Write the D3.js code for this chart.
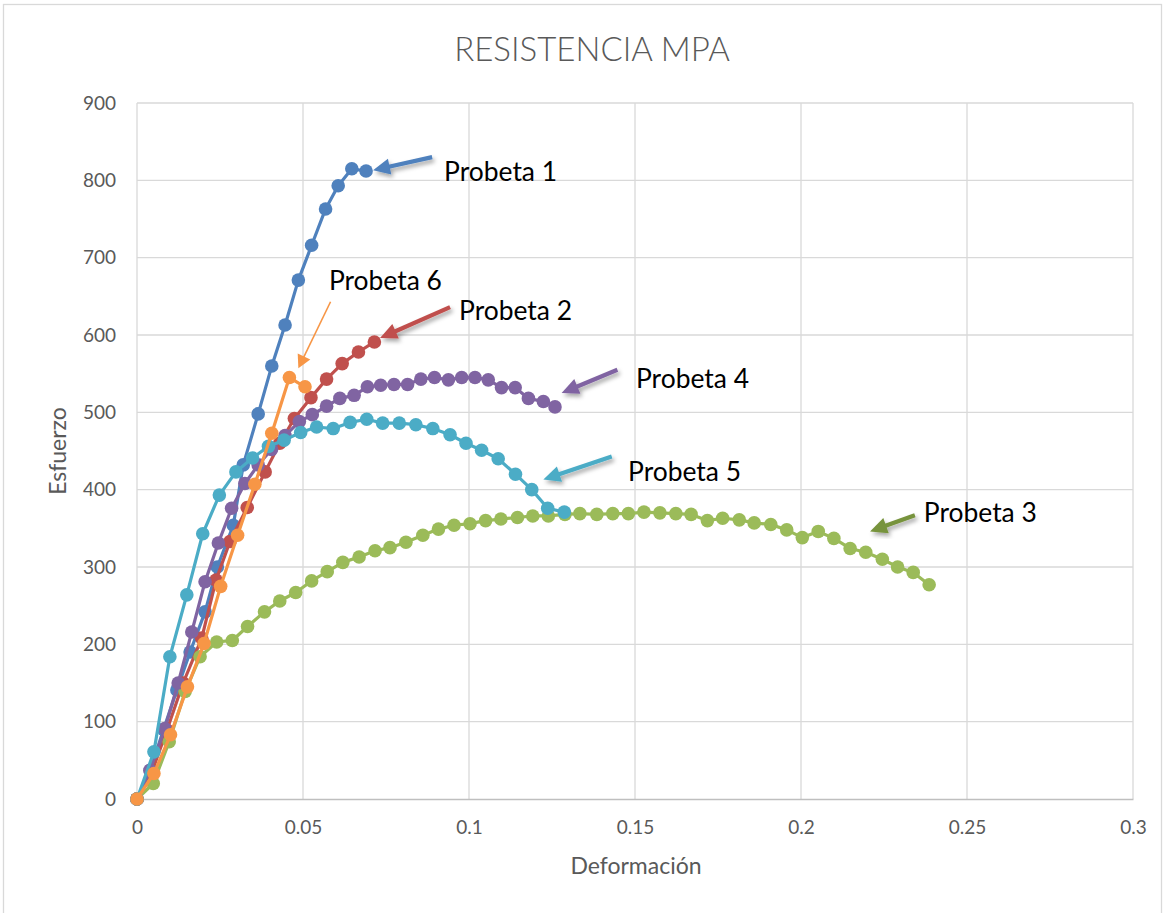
<!DOCTYPE html>
<html><head><meta charset="utf-8">
<script src="https://cdn.jsdelivr.net/npm/d3@7"></script>
<style>
body{margin:0;background:#fff;}
text{font-family:Lato,"Open Sans",sans-serif;}
</style>
</head><body>
<svg id="chart" width="1167" height="913"></svg>
<script>
// ---- data ----
const chartTitle = "RESISTENCIA MPA";
const xTitle = "Deformación";
const yTitle = "Esfuerzo";
const xTicks = [0, 0.05, 0.1, 0.15, 0.2, 0.25, 0.3];
const xTickLabels = ["0", "0.05", "0.1", "0.15", "0.2", "0.25", "0.3"];
const yTicks = [0, 100, 200, 300, 400, 500, 600, 700, 800, 900];

const seriesNames = ["Probeta 1", "Probeta 2", "Probeta 3", "Probeta 4", "Probeta 5", "Probeta 6"];

const p1x = [0, 0.004, 0.008, 0.012, 0.016, 0.0205, 0.0242, 0.029, 0.032, 0.0365, 0.0406, 0.0446, 0.0486, 0.0526, 0.0568, 0.0606, 0.0647, 0.069];
const p1y = [0, 37, 90, 141, 190, 242, 300, 354, 432, 498, 560, 613, 671, 716, 763, 793, 815, 812];

const p2x = [0, 0.0045, 0.009, 0.0139, 0.0195, 0.0238, 0.028, 0.0332, 0.0386, 0.043, 0.0474, 0.0524, 0.0571, 0.0618, 0.0667, 0.0715];
const p2y = [0, 35, 89, 150, 208, 283, 333, 377, 423, 460, 492, 519, 543, 563, 578, 591];

const p3x = [0, 0.0049, 0.0097, 0.0145, 0.019, 0.024, 0.0287, 0.0333, 0.0384, 0.043, 0.0478, 0.0526, 0.0573, 0.062, 0.0669, 0.0717, 0.0762, 0.081, 0.0861, 0.0908, 0.0955, 0.1003, 0.105, 0.1096, 0.1146, 0.1192, 0.1239, 0.1289, 0.1334, 0.1385, 0.1433, 0.148, 0.1527, 0.1575, 0.1623, 0.1669, 0.1718, 0.1764, 0.1814, 0.1859, 0.1909, 0.1957, 0.2004, 0.2052, 0.2099, 0.2148, 0.2195, 0.2245, 0.2291, 0.2338, 0.2386];
const p3y = [0, 20, 74, 139, 184, 203, 205, 223, 242, 256, 267, 282, 294, 306, 313, 321, 325, 332, 341, 349, 354, 356, 360, 362, 364, 366, 366, 368, 369, 368, 369, 369, 371, 370, 369, 368, 360, 363, 361, 357, 355, 348, 338, 346, 337, 324, 319, 310, 300, 293, 277];

const p4x = [0, 0.0039, 0.0084, 0.0124, 0.0165, 0.0205, 0.0245, 0.0285, 0.0325, 0.0365, 0.0405, 0.0446, 0.0489, 0.0528, 0.0571, 0.0611, 0.0654, 0.0694, 0.0734, 0.0774, 0.0815, 0.0855, 0.0896, 0.0938, 0.0978, 0.1018, 0.1058, 0.1098, 0.1139, 0.1179, 0.1224, 0.1259];
const p4y = [0, 37, 91, 150, 216, 281, 331, 376, 408, 432, 452, 470, 488, 497, 508, 518, 522, 533, 535, 536, 536, 543, 545, 542, 545, 545, 542, 532, 532, 518, 514, 507];

const p5x = [0, 0.0051, 0.0099, 0.015, 0.0198, 0.0248, 0.0298, 0.0348, 0.0396, 0.0443, 0.0493, 0.0541, 0.0591, 0.0642, 0.0692, 0.074, 0.079, 0.084, 0.0891, 0.0943, 0.0991, 0.1038, 0.1088, 0.114, 0.1189, 0.1237, 0.1287];
const p5y = [0, 61, 184, 264, 343, 393, 423, 441, 456, 464, 474, 481, 479, 487, 491, 486, 486, 484, 479, 471, 460, 451, 440, 420, 400, 376, 371];

const p6x = [0, 0.0051, 0.0101, 0.0152, 0.0202, 0.0252, 0.0303, 0.0355, 0.0406, 0.0459, 0.0506];
const p6y = [0, 33, 83, 145, 201, 275, 341, 407, 473, 545, 533];

const seriesX = [p1x, p2x, p3x, p4x, p5x, p6x];
const seriesY = [p1y, p2y, p3y, p4y, p5y, p6y];

// annotation labels (data units): text anchor and arrow start/tip
const annLabels = ["Probeta 1", "Probeta 6", "Probeta 2", "Probeta 4", "Probeta 5", "Probeta 3"];
const annTextX = [0.0925, 0.0578, 0.097, 0.1503, 0.1479, 0.2370];
const annTextY = [811, 671, 631, 544, 424, 371];
const annFromX = [0.0889, 0.0583, 0.0943, 0.1447, 0.1430, 0.2343];
const annFromY = [830, 643, 636, 555, 443, 367];
const annToX = [0.0711, 0.0486, 0.0732, 0.1279, 0.1224, 0.2208];
const annToY = [813, 557, 596, 525, 413, 346];

// ---- styling ----
const colors = ["#4f81bd", "#c0504d", "#9bbb59", "#8064a2", "#4bacc6", "#f79646"];
const annColors = ["#4f81bd", "#f79646", "#c0504d", "#8064a2", "#4bacc6", "#77933c"];
const annThin = [false, true, false, false, false, false];

const svg = d3.select("#chart");
const W = 1167, H = 913;
svg.append("rect").attr("x", 0).attr("y", 0).attr("width", W).attr("height", H).attr("fill", "#fff");
svg.append("rect").attr("x", 3.5).attr("y", 4.5).attr("width", 1158).attr("height", 915)
  .attr("fill", "none").attr("stroke", "#d9d9d9").attr("stroke-width", 1.3);

const defs = svg.append("defs");
const f = defs.append("filter").attr("id", "shadow").attr("x", "-30%").attr("y", "-30%").attr("width", "160%").attr("height", "160%");
f.append("feDropShadow").attr("dx", 2).attr("dy", 3).attr("stdDeviation", 2).attr("flood-color", "#000").attr("flood-opacity", 0.35);

const x = d3.scaleLinear().domain([0, 0.3]).range([137, 1133]);
const y = d3.scaleLinear().domain([0, 900]).range([799, 103]);

// gridlines
const grid = svg.append("g");
grid.selectAll("line.h").data(yTicks.filter(d => d > 0)).join("line")
  .attr("x1", x(0)).attr("x2", x(0.3)).attr("y1", d => y(d)).attr("y2", d => y(d))
  .attr("stroke", "#d9d9d9").attr("stroke-width", 1.3);
grid.selectAll("line.v").data(xTicks).join("line")
  .attr("x1", d => x(d)).attr("x2", d => x(d)).attr("y1", y(0)).attr("y2", y(900))
  .attr("stroke", "#d9d9d9").attr("stroke-width", 1.3);

// axes
const xAxis = d3.axisBottom(x).tickValues(xTicks).tickFormat((d, i) => xTickLabels[i]).tickSize(0).tickPadding(22);
const gx = svg.append("g").attr("transform", `translate(0,${y(0)})`).call(xAxis);
gx.select(".domain").attr("stroke", "#bfbfbf").attr("stroke-width", 1.3);
gx.selectAll("text").attr("fill", "#595959").attr("font-size", 19).attr("font-family", "Lato");

const yAxis = d3.axisLeft(y).tickValues(yTicks).tickFormat(d3.format("d")).tickSize(0).tickPadding(21);
const gy = svg.append("g").attr("transform", `translate(${x(0)},0)`).call(yAxis);
gy.select(".domain").remove();
gy.selectAll("text").attr("fill", "#595959").attr("font-size", 19).attr("font-family", "Lato");

// titles
svg.append("text").attr("x", 592).attr("y", 61).attr("text-anchor", "middle")
  .attr("font-size", 33).attr("font-weight", 300).attr("fill", "#595959").text(chartTitle);
svg.append("text").attr("x", 636).attr("y", 874).attr("text-anchor", "middle")
  .attr("font-size", 23).attr("fill", "#595959").text(xTitle);
svg.append("text").attr("transform", `translate(66,451) rotate(-90)`).attr("text-anchor", "middle")
  .attr("font-size", 23).attr("fill", "#595959").text(yTitle);

// series
const line = d3.line().x(d => x(d[0])).y(d => y(d[1]));
seriesX.forEach((xs, i) => {
  const pts = xs.map((v, j) => [v, seriesY[i][j]]);
  const g = svg.append("g").attr("class", "series").attr("data-name", seriesNames[i]);
  g.append("path").attr("d", line(pts)).attr("fill", "none").attr("stroke", colors[i]).attr("stroke-width", 3.2).attr("stroke-linejoin", "round");
  g.selectAll("circle").data(pts).join("circle")
    .attr("cx", d => x(d[0])).attr("cy", d => y(d[1])).attr("r", 6.8).attr("fill", colors[i]);
});

// annotations
annLabels.forEach((lab, i) => {
  const sx = x(annFromX[i]), sy = y(annFromY[i]), tx = x(annToX[i]), ty = y(annToY[i]);
  const dx = tx - sx, dy = ty - sy, len = Math.hypot(dx, dy);
  const ux = dx / len, uy = dy / len, px = -uy, py = ux;
  const thin = annThin[i];
  const L = thin ? 13 : 17, Wd = thin ? 7 : 8;
  const bx = tx - ux * L, by = ty - uy * L;
  const g = svg.append("g").attr("filter", thin ? null : "url(#shadow)");
  g.append("line").attr("x1", sx).attr("y1", sy).attr("x2", bx + ux * 2).attr("y2", by + uy * 2)
    .attr("stroke", annColors[i]).attr("stroke-width", thin ? 1.6 : 4.2);
  g.append("path").attr("d", `M${tx},${ty}L${bx + px * Wd},${by + py * Wd}L${bx - px * Wd},${by - py * Wd}Z`)
    .attr("fill", annColors[i]);
  svg.append("text").attr("x", x(annTextX[i])).attr("y", y(annTextY[i])).attr("dy", "0.35em")
    .attr("font-size", 27).attr("fill", "#000").attr("textLength", 113).attr("lengthAdjust", "spacingAndGlyphs").text(lab);
});
</script>
</body></html>
